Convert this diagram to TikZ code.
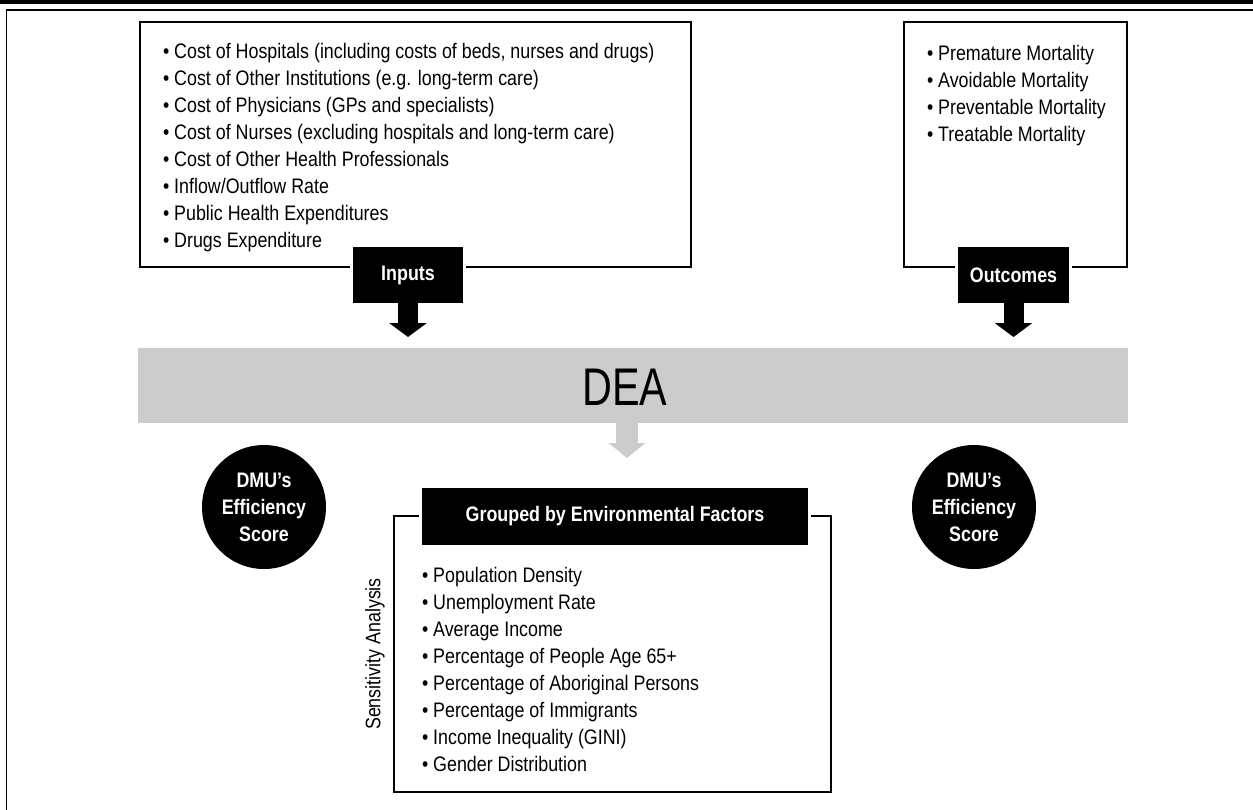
\documentclass[tikz,border=0pt]{standalone}
\usepackage{fontspec}
\setmainfont{Liberation Sans}[FakeStretch=0.85]
\newfontfamily\deafont{Liberation Sans}[FakeStretch=0.78]
\usetikzlibrary{arrows.meta}

\definecolor{bandgray}{HTML}{CCCCCC}

\begin{document}
\begin{tikzpicture}[x=0.75pt, y=-0.75pt,
  every node/.style={inner sep=0pt, outer sep=0pt},
  txt/.style={font=\fontsize{15.75}{20.25}\selectfont, anchor=base west},
  lbl/.style={font=\fontsize{15.75}{20.25}\selectfont\bfseries, text=white},
  frame/.style={draw=black, line width=1.5pt},
  blackbox/.style={lbl, fill=black, draw=white, line width=2.25pt},
  blkarrow/.style={draw=black, line width=15pt,
    -{Triangle[width=27.75pt,length=10.5pt]}, shorten <=-2pt},
  grayarrow/.style={draw=bandgray, line width=16.5pt,
    -{Triangle[width=27pt,length=11.25pt]}},
  score/.style={lbl, circle, fill=black, minimum size=93pt, align=center},
]
\useasboundingbox (0,0) rectangle (1253,810);

% page rules
\fill[black] (0,0) rectangle (1253,3.5);
\draw[line width=1pt] (6.5,810) -- (6.5,10) -- (1253,10);

% input and outcome frames
\draw[frame] (140,22) rectangle (691,267);
\draw[frame] (904,22) rectangle (1127,267);

\foreach \t [count=\i] in {
  {Cost of Hospitals (including costs of beds, nurses and drugs)},
  {Cost of Other Institutions (e.g. long-term care)},
  {Cost of Physicians (GPs and specialists)},
  {Cost of Nurses (excluding hospitals and long-term care)},
  {Cost of Other Health Professionals},
  {Inflow/Outflow Rate},
  {Public Health Expenditures},
  {Drugs Expenditure}}
  \node[txt] (in\i) at (163, {58+27*(\i-1)}) {• \t};

\foreach \t [count=\i] in {
  Premature Mortality, Avoidable Mortality,
  Preventable Mortality, Treatable Mortality}
  \node[txt] (out\i) at (927, {60+27*(\i-1)}) {• \t};

\node[blackbox, minimum width=84.75pt, minimum height=44.25pt] (inputs) at (408,275) {Inputs};
\node[blackbox, minimum width=85.5pt, minimum height=44.25pt] (outcomes) at (1013.5,275) {Outcomes};

% DEA band
\node[fill=bandgray, minimum width=742.5pt, minimum height=56.25pt] (dea) at (633,385.5) {};
\node[font=\deafont\fontsize{39.75}{45}\selectfont] (deatext) at (625,387) {DEA};

\draw[blkarrow] (inputs.south) -- (inputs.south |- 0,337);
\draw[blkarrow] (outcomes.south) -- (outcomes.south |- 0,337);

\coordinate (gtip) at (627,458);
\draw[grayarrow] (gtip |- dea.south) -- (gtip);

% efficiency scores
\node[score] (effL) at (264,507) {DMU’s\\Efficiency\\Score};
\node[score] (effR) at (974,507) {DMU’s\\Efficiency\\Score};

% environmental factors
\draw[frame] (394,516) rectangle (831,792);
\node[blackbox, minimum width=291.75pt, minimum height=45pt] (grouped) at (615,516.5) {Grouped by Environmental Factors};

\foreach \t [count=\i] in {
  Population Density, Unemployment Rate, Average Income,
  Percentage of People Age 65+, Percentage of Aboriginal Persons,
  Percentage of Immigrants, Income Inequality (GINI), Gender Distribution}
  \node[txt] (env\i) at (422, {582+27*(\i-1)}) {• \t};

\node[font=\fontsize{15.75}{20.25}\selectfont, rotate=90] (sens) at (375,654) {Sensitivity Analysis};
\end{tikzpicture}
\end{document}
